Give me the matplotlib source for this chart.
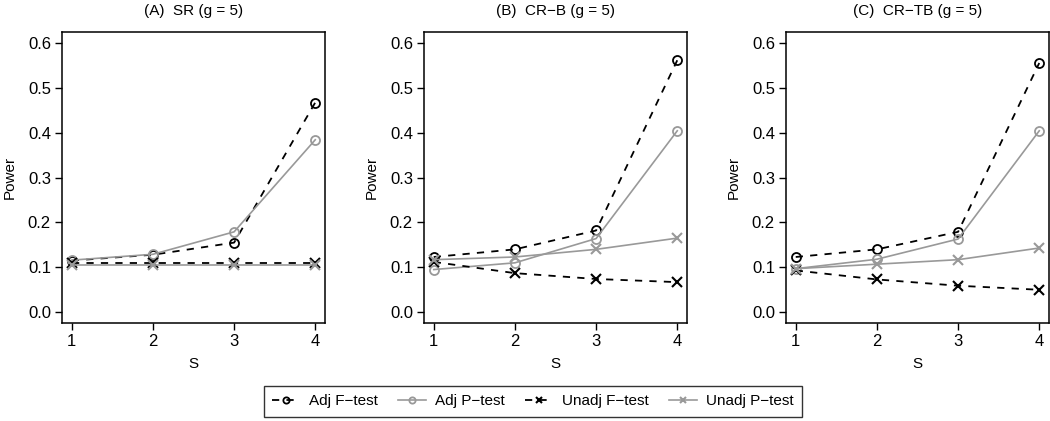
import matplotlib
matplotlib.use("Agg")
import matplotlib.pyplot as plt
from matplotlib.lines import Line2D

plt.rcParams['font.family'] = ['Liberation Sans', 'DejaVu Sans']

S = [1, 2, 3, 4]
titles = ["(A)  SR (g = 5)", "(B)  CR\u2212B (g = 5)", "(C)  CR\u2212TB (g = 5)"]
series_names = ["Adj F\u2212test", "Adj P\u2212test", "Unadj F\u2212test", "Unadj P\u2212test"]

adj_f = [[0.115, 0.128, 0.155, 0.467],
         [0.123, 0.140, 0.182, 0.561],
         [0.123, 0.140, 0.179, 0.555]]
adj_p = [[0.116, 0.129, 0.179, 0.384],
         [0.095, 0.110, 0.164, 0.404],
         [0.097, 0.118, 0.163, 0.404]]
unadj_f = [[0.110, 0.110, 0.110, 0.110],
           [0.112, 0.087, 0.074, 0.067],
           [0.093, 0.073, 0.059, 0.050]]
unadj_p = [[0.106, 0.106, 0.106, 0.106],
           [0.117, 0.123, 0.140, 0.165],
           [0.097, 0.107, 0.117, 0.143]]

yticks = [0.0, 0.1, 0.2, 0.3, 0.4, 0.5, 0.6]
ytick_labels = ["0.0", "0.1", "0.2", "0.3", "0.4", "0.5", "0.6"]

GRAY = "#999999"
styles = [
    dict(color="black", ls=(0, (4, 4)), marker="o", lw=1.3, mew=1.3),
    dict(color=GRAY, ls="-", marker="o", lw=1.2, mew=1.3),
    dict(color="black", ls=(0, (4, 4)), marker="x", lw=1.3, mew=1.5),
    dict(color=GRAY, ls="-", marker="x", lw=1.2, mew=1.5),
]

W, H = 1050, 421
fig = plt.figure(figsize=(W / 100, H / 100), dpi=100)
lefts = [62, 424, 786]
top, bottom = 32, 323
aw = 263
for i in range(3):
    ax = fig.add_axes([lefts[i] / W, 1 - bottom / H, aw / W, (bottom - top) / H])
    data = [adj_f[i], adj_p[i], unadj_f[i], unadj_p[i]]
    for d, st in zip(data, styles):
        ax.plot(S, d, color=st["color"], ls=st["ls"], lw=st["lw"], marker=st["marker"],
                ms=6.5, mfc="none", mec=st["color"], mew=st["mew"])
    ax.set_xlim(0.88, 4.12)
    ax.set_ylim(-0.024, 0.624)
    ax.set_xticks(S)
    ax.set_yticks(yticks)
    ax.set_yticklabels(ytick_labels)
    ax.tick_params(direction="out", length=5, width=1, labelsize=12, pad=3)
    for sp in ax.spines.values():
        sp.set_linewidth(1.1)
    ax.set_title(titles[i], fontsize=11, pad=12)
    ax.set_ylabel("Power", fontsize=11, labelpad=8)
    ax.set_xlabel("S", fontsize=11, labelpad=6)

handles = [Line2D([0], [0], color=st["color"], ls=st["ls"], lw=st["lw"], marker=st["marker"],
                  ms=4.5, mfc="none", mec=st["color"], mew=st["mew"]) for st in styles]
leg = fig.legend(handles, series_names, loc="center", bbox_to_anchor=(533 / W, 1 - 401.5 / H),
                 ncol=4, frameon=True, fancybox=False, edgecolor="black", fontsize=11,
                 handlelength=1.8, columnspacing=1.35, handletextpad=0.6, borderpad=0.55)
leg.get_frame().set_linewidth(1.0)

fig.savefig("out.png", dpi=100)
